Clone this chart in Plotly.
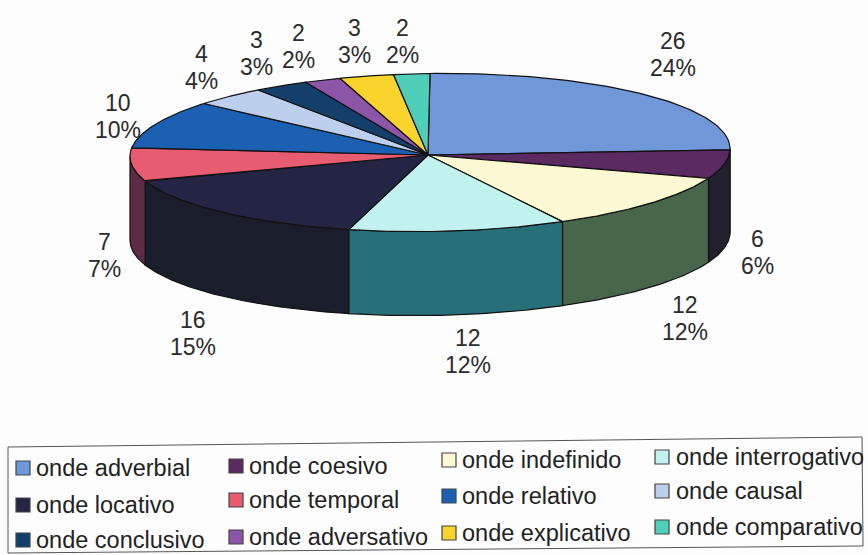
import numpy as np
import plotly.graph_objects as go

categories = ["onde adverbial", "onde coesivo", "onde indefinido", "onde interrogativo",
              "onde locativo", "onde temporal", "onde relativo", "onde causal",
              "onde conclusivo", "onde adversativo", "onde explicativo", "onde comparativo"]
values = [26, 6, 12, 12, 16, 7, 10, 4, 3, 2, 3, 2]
percent_labels = ["24%", "6%", "12%", "12%", "15%", "7%", "10%", "4%", "3%", "2%", "3%", "2%"]
top_colors = ["#7097d8", "#5a2a60", "#fbf8d2", "#c2f2f0", "#242545", "#e85c72",
              "#1c60b2", "#bcd0ee", "#143f6a", "#8c55a8", "#fad32c", "#50cfb8"]
side_colors = ["#4a6a9a", "#22202e", "#47664b", "#27707a", "#1a1e2a", "#5c2b45",
               "#134278", "#7f90a8", "#0e2a48", "#5f3a70", "#a88d20", "#36907e"]

# Geometry of the tilted pie, in page pixels
CX, CY, RX, RY, DEPTH, TILT = 430, 152.5, 300, 79, 84, -0.013
APEX = (428, 155)
# Label centres (x, y of the two-line block)
label_pos = [(673, 54), (757, 252), (685, 318), (468, 351), (193, 333), (104, 255),
             (118, 116), (201, 67), (256, 53), (298, 46), (354, 41), (402, 41)]
LINE_GAP = 27
# Legend layout
col_swatch = [16, 229, 442, 655]
col_text = [34, 247, 460, 674]
row_y = [[468, 505, 540], [466, 500, 537], [460, 496, 533], [457, 491, 527]]


def pt(deg, dz=0.0):
    a = np.radians(deg)
    x = CX + RX * np.sin(a)
    y = CY - RY * np.cos(a) + TILT * (x - CX) + dz
    return x, y


fig = go.Figure()
total = sum(values)
edges = np.cumsum([0] + values) / total * 360

# side walls
for i, c in enumerate(categories):
    a0, a1 = max(edges[i], 90), min(edges[i + 1], 270)
    if a1 <= a0:
        continue
    t = np.linspace(a0, a1, 60)
    xs, ys = pt(t)
    xb, yb = pt(t[::-1], DEPTH)
    fig.add_trace(go.Scatter(
        x=np.r_[xs, xb, xs[0]], y=np.r_[ys, yb, ys[0]], mode="lines", fill="toself",
        fillcolor=side_colors[i], line=dict(color="#111111", width=1.2),
        showlegend=False, name=c, hoverinfo="skip"))

# top faces
for i, c in enumerate(categories):
    t = np.linspace(edges[i], edges[i + 1], 90)
    xs, ys = pt(t)
    fig.add_trace(go.Scatter(
        x=np.r_[APEX[0], xs, APEX[0]], y=np.r_[APEX[1], ys, APEX[1]], mode="lines",
        fill="toself", fillcolor=top_colors[i], line=dict(color="#111111", width=1.2),
        showlegend=False, name=c, hoverinfo="name"))

FONT = "Liberation Sans, Arial, sans-serif"
ann = []
for v, p, (x, y) in zip(values, percent_labels, label_pos):
    for txt, yy in ((str(v), y - LINE_GAP / 2), (p, y + LINE_GAP / 2)):
        ann.append(dict(x=x, y=yy, text=txt, showarrow=False, xref="x", yref="y",
                        font=dict(family=FONT, size=23, color="#2b2b2b"), align="center"))

shapes = [dict(type="path", path="M 8 447 L 862 437 L 863 546 L 8 553 Z",
               line=dict(color="#555555", width=1), fillcolor="rgba(0,0,0,0)", layer="below")]
for i, (c, col) in enumerate(zip(categories, top_colors)):
    cidx, ridx = i % 4, i // 4
    y = row_y[cidx][ridx]
    sx = col_swatch[cidx]
    shapes.append(dict(type="rect", x0=sx, x1=sx + 14, y0=y - 7, y1=y + 7, fillcolor=col,
                       line=dict(color="#444444", width=1.2)))
    ann.append(dict(x=col_text[cidx], y=y, text=c, showarrow=False, xanchor="left",
                    xref="x", yref="y", font=dict(family=FONT, size=23.5, color="#222222")))

fig.update_layout(
    width=868, height=555, margin=dict(l=0, r=0, t=0, b=0),
    paper_bgcolor="#fdfdfd", plot_bgcolor="#fdfdfd", showlegend=False,
    xaxis=dict(range=[0, 868], visible=False, fixedrange=True),
    yaxis=dict(range=[555, 0], visible=False, fixedrange=True),
    annotations=ann, shapes=shapes)
fig.write_html("out.html", config={"displayModeBar": False},
               post_script="document.body.style.margin='0';document.body.style.overflow='hidden';")
